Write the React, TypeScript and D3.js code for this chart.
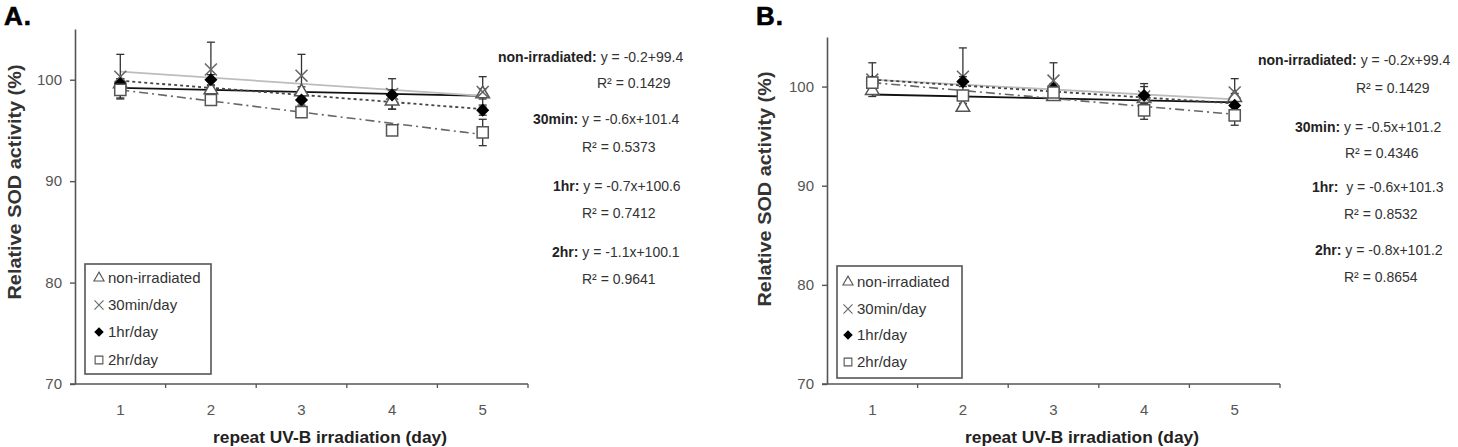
import { useEffect, useRef } from "react";
import * as d3 from "d3";

const days = ["1", "2", "3", "4", "5"];
const groups = ["non-irradiated", "30min/day", "1hr/day", "2hr/day"];
const yTicks = [70, 80, 90, 100];

// panel A: means and SD per day
const aNonIrr = [99.6, 99.0, 98.8, 97.9, 98.6];
const aMin30 = [100.3, 101.0, 100.4, 98.6, 98.8];
const aHr1 = [99.6, 100.0, 98.0, 98.5, 97.0];
const aHr2 = [99.0, 98.0, 96.8, 95.0, 94.8];
const aNonIrrErr = [0.5, 0.4, 0.5, 0.8, 0.5];
const aMin30Err = [2.2, 2.7, 2.1, 1.5, 1.5];
const aHr1Err = [0.5, 0.5, 0.5, 0.5, 0.5];
const aHr2Err = [0.8, 0.4, 0.5, 0.3, 1.3];
const aSlopes = [-0.2, -0.6, -0.7, -1.1];
const aIntercepts = [99.4, 101.4, 100.6, 100.1];
const aEqPrefix = ["non-irradiated:", "30min:", "1hr:", "2hr:"];
const aEqText = [" y = -0.2+99.4", " y = -0.6x+101.4", " y = -0.7x+100.6", " y = -1.1x+100.1"];
const aR2 = ["R² = 0.1429", "R² = 0.5373", "R² = 0.7412", "R² = 0.9641"];

// panel B
const bNonIrr = [99.6, 97.9, 99.0, 98.8, 98.9];
const bMin30 = [100.7, 101.0, 100.6, 99.0, 99.4];
const bHr1 = [100.5, 100.5, 99.8, 99.1, 98.1];
const bHr2 = [100.4, 99.1, 99.4, 97.6, 97.1];
const bNonIrrErr = [0.3, 0.4, 0.3, 0.5, 0.4];
const bMin30Err = [1.7, 2.9, 1.8, 1.0, 1.4];
const bHr1Err = [0.5, 0.5, 0.5, 1.2, 0.5];
const bHr2Err = [0.5, 0.5, 0.4, 0.9, 1.0];
const bSlopes = [-0.2, -0.5, -0.6, -0.8];
const bIntercepts = [99.4, 101.2, 101.3, 101.2];
const bEqPrefix = ["non-irradiated:", "30min:", "1hr: ", "2hr:"];
const bEqText = [" y = -0.2x+99.4", " y = -0.5x+101.2", " y = -0.6x+101.3", " y = -0.8x+101.2"];
const bR2 = ["R² = 0.1429", "R² = 0.4346", "R² = 0.8532", "R² = 0.8654"];

const FONT = "'Liberation Sans', Arial, sans-serif";

const trendStyles = [
  { stroke: "#111", dash: "", width: 1.8 },
  { stroke: "#bdbdbd", dash: "", width: 1.8 },
  { stroke: "#444", dash: "3,3", width: 1.8 },
  { stroke: "#666", dash: "9,4,2,4", width: 1.6 },
];

// diamond is a square turned 45 degrees
const markers = [
  { type: d3.symbolTriangle, size: 80, legendSize: 45, rot: 0, fill: "#fff", stroke: "#555" },
  { type: d3.symbolX, size: 95, legendSize: 55, rot: 0, fill: "none", stroke: "#666" },
  { type: d3.symbolSquare, size: 60, legendSize: 32, rot: 45, fill: "#000", stroke: "#000" },
  { type: d3.symbolSquare, size: 125, legendSize: 60, rot: 0, fill: "#fff", stroke: "#555" },
];

interface PanelCfg {
  tag: string;
  tagX: number;
  left: number;
  right: number;
  top: number;
  bottom: number;
  means: number[][];
  errs: number[][];
  slopes: number[];
  intercepts: number[];
  eqPrefix: string[];
  eqText: string[];
  r2: string[];
  eqX: number[];
  eqY: number[];
  r2X: number[];
  r2Y: number[];
  legend: { x: number; y: number; w: number; h: number; symX: number; textX: number; rows: number[] };
  yTitleX: number;
  yTitleY: number;
  xTitleX: number;
}

const panels: PanelCfg[] = [
  {
    tag: "A.", tagX: 4, left: 75, right: 528, top: 29, bottom: 384,
    means: [aNonIrr, aMin30, aHr1, aHr2],
    errs: [aNonIrrErr, aMin30Err, aHr1Err, aHr2Err],
    slopes: aSlopes, intercepts: aIntercepts,
    eqPrefix: aEqPrefix, eqText: aEqText, r2: aR2,
    eqX: [498, 533, 553, 552], eqY: [62, 124, 191, 257],
    r2X: [597, 582, 582, 582], r2Y: [88, 152, 218, 284],
    legend: { x: 85, y: 264, w: 126, h: 110, symX: 99, textX: 108, rows: [278, 305, 332, 360] },
    yTitleX: 15, yTitleY: 182, xTitleX: 330,
  },
  {
    tag: "B.", tagX: 756, left: 827, right: 1280, top: 37, bottom: 384,
    means: [bNonIrr, bMin30, bHr1, bHr2],
    errs: [bNonIrrErr, bMin30Err, bHr1Err, bHr2Err],
    slopes: bSlopes, intercepts: bIntercepts,
    eqPrefix: bEqPrefix, eqText: bEqText, r2: bR2,
    eqX: [1258, 1295, 1312, 1315], eqY: [65, 132, 192, 255],
    r2X: [1356, 1345, 1344, 1344], r2Y: [93, 158, 219, 282],
    legend: { x: 837, y: 266, w: 125, h: 112, symX: 848, textX: 857, rows: [282, 309, 335, 362] },
    yTitleX: 765, yTitleY: 189, xTitleX: 1082,
  },
];

function drawPanel(svg: d3.Selection<SVGSVGElement, unknown, null, undefined>, p: PanelCfg) {
  const g = svg.append("g");
  const x = d3.scaleBand<string>().domain(days).range([p.left, p.right]);
  const bw = x.bandwidth();
  const cx = (d: string) => (x(d) as number) + bw / 2;
  const y = d3.scaleLinear().domain([70, 105]).range([p.bottom, p.top]);

  // panel letter
  g.append("text")
    .attr("x", p.tagX)
    .attr("y", 25)
    .attr("font-family", FONT)
    .attr("font-weight", "bold")
    .attr("font-size", 26)
    .attr("stroke", "#000")
    .attr("stroke-width", 0.6)
    .attr("letter-spacing", 1)
    .text(p.tag);

  // y axis
  const yAxis = g
    .append("g")
    .attr("transform", `translate(${p.left},0)`)
    .call(d3.axisLeft(y).tickValues(yTicks).tickSize(5).tickSizeOuter(0).tickPadding(8));
  yAxis.select(".domain").attr("stroke", "#555").attr("stroke-width", 1.6);
  yAxis.selectAll(".tick line").attr("stroke", "#555").attr("stroke-width", 1.4);
  yAxis
    .selectAll(".tick text")
    .attr("font-family", FONT)
    .attr("font-size", 15)
    .attr("fill", "#555");

  // x axis: line, boundary ticks, centred labels
  g.append("line")
    .attr("x1", p.left - 5)
    .attr("x2", p.right)
    .attr("y1", p.bottom)
    .attr("y2", p.bottom)
    .attr("stroke", "#555")
    .attr("stroke-width", 1.6);
  g.selectAll(".xtick")
    .data(days)
    .enter()
    .append("line")
    .attr("x1", (d) => (x(d) as number) + bw)
    .attr("x2", (d) => (x(d) as number) + bw)
    .attr("y1", p.bottom)
    .attr("y2", p.bottom + 4)
    .attr("stroke", "#555")
    .attr("stroke-width", 1.3);
  g.selectAll(".xlab")
    .data(days)
    .enter()
    .append("text")
    .attr("x", (d) => cx(d))
    .attr("y", p.bottom + 31)
    .attr("text-anchor", "middle")
    .attr("font-family", FONT)
    .attr("font-size", 15)
    .attr("fill", "#555")
    .text((d) => d);

  // axis titles
  g.append("text")
    .attr("transform", `translate(${p.yTitleX},${p.yTitleY}) rotate(-90)`)
    .attr("text-anchor", "middle")
    .attr("dominant-baseline", "central")
    .attr("font-family", FONT)
    .attr("font-weight", "bold")
    .attr("font-size", 18)
    .attr("fill", "#333")
    .attr("textLength", 235)
    .attr("lengthAdjust", "spacingAndGlyphs")
    .text("Relative SOD activity (%)");
  g.append("text")
    .attr("x", p.xTitleX)
    .attr("y", 443)
    .attr("text-anchor", "middle")
    .attr("font-family", FONT)
    .attr("font-weight", "bold")
    .attr("font-size", 17)
    .attr("fill", "#222")
    .attr("textLength", 234)
    .attr("lengthAdjust", "spacingAndGlyphs")
    .text("repeat UV-B irradiation  (day)");

  // linear trend lines from the fitted equations
  groups.forEach((_, gi) => {
    const st = trendStyles[gi];
    g.append("path")
      .datum([1, 5])
      .attr(
        "d",
        d3
          .line<number>()
          .x((d) => cx(String(d)))
          .y((d) => y(p.slopes[gi] * d + p.intercepts[gi]))
      )
      .attr("fill", "none")
      .attr("stroke", st.stroke)
      .attr("stroke-width", st.width)
      .attr("stroke-dasharray", st.dash || null);
  });

  // error bars
  groups.forEach((_, gi) => {
    const eg = g.append("g").attr("stroke", "#333").attr("stroke-width", 1.3);
    days.forEach((d, i) => {
      const m = p.means[gi][i];
      const e = p.errs[gi][i];
      const xc = cx(d);
      eg.append("line").attr("x1", xc).attr("x2", xc).attr("y1", y(m - e)).attr("y2", y(m + e));
      [m - e, m + e].forEach((v) => {
        eg.append("line").attr("x1", xc - 4).attr("x2", xc + 4).attr("y1", y(v)).attr("y2", y(v));
      });
    });
  });

  // markers
  groups.forEach((_, gi) => {
    const mk = markers[gi];
    g.selectAll(`.m${gi}`)
      .data(days.map((d, i) => ({ d, m: p.means[gi][i] })))
      .enter()
      .append("path")
      .attr("transform", (r) => `translate(${cx(r.d)},${y(r.m)}) rotate(${mk.rot})`)
      .attr("d", d3.symbol().type(mk.type).size(mk.size)())
      .attr("fill", mk.fill)
      .attr("stroke", mk.stroke)
      .attr("stroke-width", 1.5);
  });

  // legend
  const lg = p.legend;
  g.append("rect")
    .attr("x", lg.x)
    .attr("y", lg.y)
    .attr("width", lg.w)
    .attr("height", lg.h)
    .attr("fill", "#fff")
    .attr("stroke", "#555")
    .attr("stroke-width", 1.6);
  groups.forEach((name, gi) => {
    const mk = markers[gi];
    g.append("path")
      .attr("transform", `translate(${lg.symX},${lg.rows[gi]}) rotate(${mk.rot})`)
      .attr("d", d3.symbol().type(mk.type).size(mk.legendSize)())
      .attr("fill", mk.fill === "#fff" ? "none" : mk.fill)
      .attr("stroke", mk.stroke)
      .attr("stroke-width", 1.1);
    g.append("text")
      .attr("x", lg.textX)
      .attr("y", lg.rows[gi] + 5)
      .attr("font-family", FONT)
      .attr("font-size", 15)
      .attr("fill", "#333")
      .text(name);
  });

  // equation labels
  groups.forEach((_, gi) => {
    const t = g
      .append("text")
      .attr("x", p.eqX[gi])
      .attr("y", p.eqY[gi])
      .attr("font-family", FONT)
      .attr("font-size", 14)
      .attr("fill", "#333")
      .attr("xml:space", "preserve");
    t.append("tspan").attr("font-weight", "bold").attr("fill", "#222").text(p.eqPrefix[gi]);
    t.append("tspan").text(p.eqText[gi]);
    g.append("text")
      .attr("x", p.r2X[gi])
      .attr("y", p.r2Y[gi])
      .attr("font-family", FONT)
      .attr("font-size", 14)
      .attr("fill", "#333")
      .text(p.r2[gi]);
  });
}

export default function App() {
  const svgRef = useRef<SVGSVGElement | null>(null);

  useEffect(() => {
    if (!svgRef.current) return;
    const svg = d3.select(svgRef.current);
    svg.selectAll("*").remove();
    panels.forEach((p) => drawPanel(svg, p));
  }, []);

  return (
    <div style={{ position: "absolute", left: 0, top: 0 }}>
      <svg ref={svgRef} width={1458} height={447} style={{ display: "block", background: "#fff" }} />
    </div>
  );
}
